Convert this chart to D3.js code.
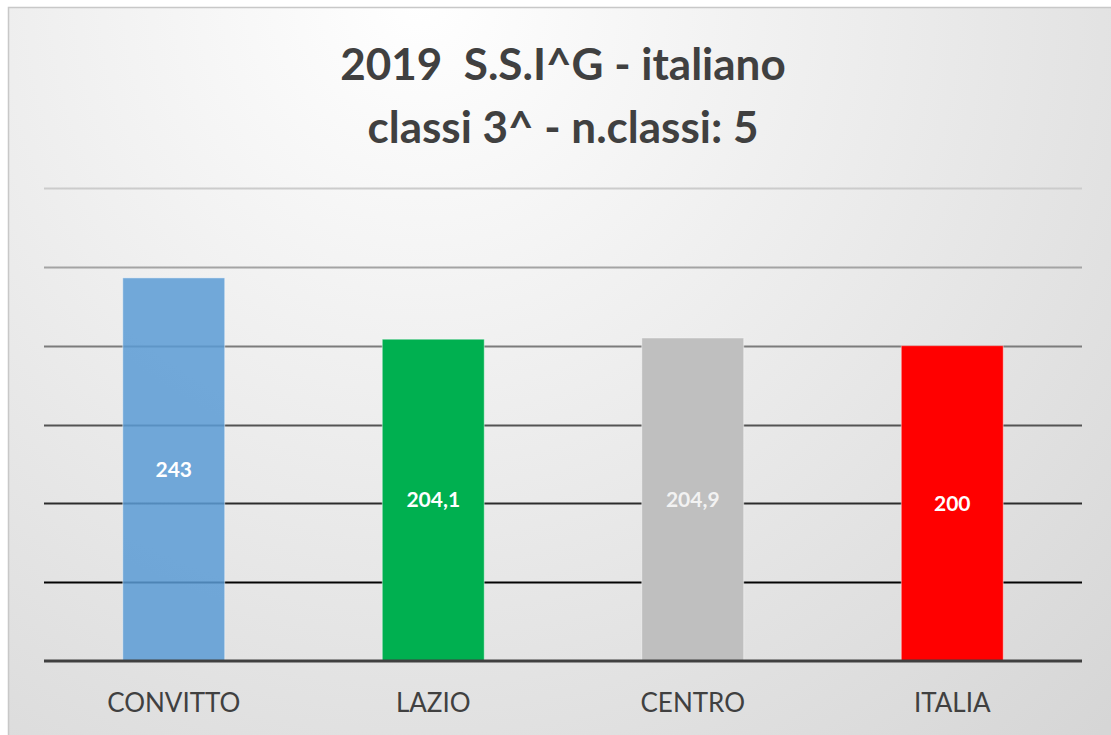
<!DOCTYPE html>
<html>
<head>
<meta charset="utf-8">
<script src="https://cdn.jsdelivr.net/npm/d3@7"></script>
<style>
  body { margin: 0; background: #fff; }
  svg { display: block; }
</style>
</head>
<body>
<div id="chart"></div>
<script>
const categories = ['CONVITTO', 'LAZIO', 'CENTRO', 'ITALIA'];
const values = [243, 204.1, 204.9, 200];
const labels = ['243', '204,1', '204,9', '200'];
const colors = ['#5b9bd5', '#00b050', '#bfbfbf', '#ff0000'];
const yTicks = [0, 50, 100, 150, 200, 250, 300];
const titleLines = ['2019  S.S.I^G - italiano', 'classi 3^ - n.classi: 5'];

const width = 1111;
const height = 735;
const plot = { left: 44, right: 1082, top: 188, bottom: 661 };

const svg = d3.select('#chart')
    .append('svg')
    .attr('width', width)
    .attr('height', height);

const defs = svg.append('defs');

// soft background like the office chart style
const bg = defs.append('radialGradient')
    .attr('id', 'bg')
    .attr('gradientUnits', 'userSpaceOnUse')
    .attr('cx', 420).attr('cy', 0).attr('r', 1000);
bg.append('stop').attr('offset', '0%').attr('stop-color', '#ffffff');
bg.append('stop').attr('offset', '100%').attr('stop-color', '#d6d6d6');

// gridlines fade from light gray at top to black near the bottom
const gridGrad = defs.append('linearGradient')
    .attr('id', 'gridGrad')
    .attr('gradientUnits', 'userSpaceOnUse')
    .attr('x1', 0).attr('x2', 0)
    .attr('y1', plot.top).attr('y2', 590);
gridGrad.append('stop').attr('offset', '0%').attr('stop-color', '#cccccc');
gridGrad.append('stop').attr('offset', '100%').attr('stop-color', '#000000');

svg.append('rect')
    .attr('x', 8.5).attr('y', 7.5)
    .attr('width', width).attr('height', height)
    .attr('fill', 'url(#bg)')
    .attr('stroke', '#c8c8c8')
    .attr('stroke-width', 1.5);

const x = d3.scaleBand()
    .domain(categories)
    .range([plot.left, plot.right])
    .paddingInner(0.607)
    .paddingOuter(0.3035);

const y = d3.scaleLinear()
    .domain([0, 300])
    .range([plot.bottom, plot.top]);

// gridlines
svg.append('g')
    .selectAll('line')
    .data(yTicks.filter(d => d > 0))
    .enter()
    .append('line')
    .attr('x1', plot.left)
    .attr('x2', plot.right)
    .attr('y1', d => Math.round(y(d)) + 0.5)
    .attr('y2', d => Math.round(y(d)) + 0.5)
    .attr('stroke', 'url(#gridGrad)')
    .attr('stroke-width', 2);

// bars
svg.append('g')
    .selectAll('rect')
    .data(values)
    .enter()
    .append('rect')
    .attr('x', (d, i) => x(categories[i]))
    .attr('y', d => y(d))
    .attr('width', x.bandwidth())
    .attr('height', d => y(0) - y(d))
    .attr('fill', (d, i) => colors[i])
    .attr('fill-opacity', (d, i) => i === 0 ? 0.85 : 1)
    .attr('stroke', 'rgba(255,255,255,0.45)')
    .attr('stroke-width', 1);

// baseline
svg.append('line')
    .attr('x1', plot.left).attr('x2', plot.right)
    .attr('y1', y(0)).attr('y2', y(0))
    .attr('stroke', '#404040')
    .attr('stroke-width', 3);

// value labels centred in the bars
svg.append('g')
    .selectAll('text')
    .data(values)
    .enter()
    .append('text')
    .attr('x', (d, i) => x(categories[i]) + x.bandwidth() / 2)
    .attr('y', d => (y(d) + y(0)) / 2)
    .attr('dy', '0.35em')
    .attr('text-anchor', 'middle')
    .attr('font-family', 'Lato, "Open Sans", sans-serif')
    .attr('font-weight', 'bold')
    .attr('font-size', 21)
    .attr('fill', (d, i) => i === 2 ? '#f2f2f2' : '#ffffff')
    .text((d, i) => labels[i]);

// category axis
const xAxis = d3.axisBottom(x).tickSize(0).tickPadding(0);
const gx = svg.append('g')
    .attr('transform', `translate(0, ${y(0)})`)
    .call(xAxis);
gx.select('.domain').remove();
gx.selectAll('text')
    .attr('y', 42)
    .attr('dy', '0.35em')
    .attr('font-family', 'Lato, "Open Sans", sans-serif')
    .attr('font-size', 26)
    .attr('fill', '#404040');

// title
svg.append('g')
    .selectAll('text')
    .data(titleLines)
    .enter()
    .append('text')
    .attr('x', 563)
    .attr('y', (d, i) => 65 + i * 63)
    .attr('dy', '0.35em')
    .attr('text-anchor', 'middle')
    .attr('font-family', 'Lato, "Open Sans", sans-serif')
    .attr('font-weight', 'bold')
    .attr('font-size', 44)
    .attr('fill', '#404040')
    .style('white-space', 'pre')
    .text(d => d);
</script>
</body>
</html>
